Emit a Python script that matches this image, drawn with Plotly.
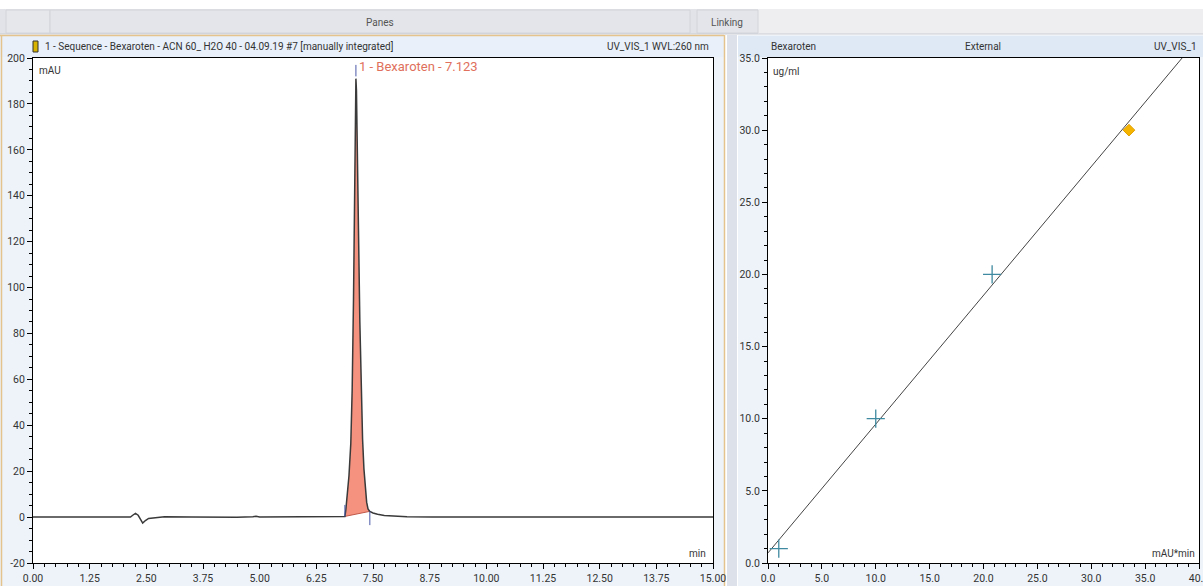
import plotly.graph_objects as go

W, H = 1203, 586

# ---------------- data ----------------
time_min = [0.00, 2.15, 2.20, 2.26, 2.32, 2.37, 2.42, 2.48, 2.55, 2.70, 2.90, 3.50, 4.50, 4.85, 4.92, 5.00,
            6.00, 6.86, 6.88, 6.90, 6.93, 6.97, 7.01, 7.04, 7.07, 7.095, 7.115, 7.123, 7.135, 7.155,
            7.18, 7.21, 7.24, 7.27, 7.30, 7.33, 7.36, 7.39, 7.43, 7.50, 7.60, 7.75, 7.95, 8.25, 8.80,
            10.00, 15.00]
signal_mau = [0.0, 0.0, 0.8, 1.6, 0.8, -1.0, -2.6, -1.5, -0.6, -0.3, 0.1, 0.0, -0.1, 0.2, 0.4, 0.0,
              0.0, 0.0, 0.3, 3.0, 10.0, 18.0, 32.0, 55.0, 95.0, 152.0, 186.0, 191.0, 186.0, 165.0,
              125.0, 85.0, 54.0, 34.0, 21.0, 13.0, 6.5, 3.6, 2.5, 1.8, 1.2, 0.7, 0.4, 0.2, 0.05,
              0.0, 0.0]
peak_name = "1 - Bexaroten - 7.123"
peak_rt = 7.123
peak_height = 191.0
peak_start, peak_end = 6.88, 7.43
baseline_start_val, baseline_end_val = 0.3, 2.5

cal_area = [1.0, 10.0, 20.8]          # mAU*min
cal_amount = [1.0, 10.0, 20.0]        # ug/ml
sample_area = [33.5]
sample_amount = [30.0]
fit_x = [0.0, 40.0]
fit_y = [0.7, 36.4]

chrom_xticks = [0.00, 1.25, 2.50, 3.75, 5.00, 6.25, 7.50, 8.75, 10.00, 11.25, 12.50, 13.75, 15.00]
chrom_yticks = [-20, 0, 20, 40, 60, 80, 100, 120, 140, 160, 180, 200]
cal_xticks = [0, 5, 10, 15, 20, 25, 30, 35, 40]
cal_yticks = [0, 5, 10, 15, 20, 25, 30, 35]

FONT = "Roboto, Liberation Sans, Arial"
TXT = "#333333"
FS = 10.5
HFS = 10


def X(px):
    return px / W


def Y(py):
    return 1 - py / H


fig = go.Figure()

# peak fill polygon (peak segment + integration baseline)
seg = [(t, s) for t, s in zip(time_min, signal_mau) if peak_start <= t <= peak_end]
fx = [t for t, _ in seg] + [peak_end, peak_start]
fy = [s for _, s in seg] + [baseline_end_val, baseline_start_val]
fig.add_trace(go.Scatter(x=fx, y=fy, fill="toself", fillcolor="#f5927f", mode="lines",
                         line=dict(color="rgba(0,0,0,0)", width=0), hoverinfo="skip",
                         xaxis="x", yaxis="y", showlegend=False))
fig.add_trace(go.Scatter(x=[peak_start, peak_end], y=[baseline_start_val, baseline_end_val], mode="lines",
                         line=dict(color="#c0584a", width=1), xaxis="x", yaxis="y", showlegend=False))
fig.add_trace(go.Scatter(x=time_min, y=signal_mau, mode="lines",
                         line=dict(color="#3a3a3a", width=1.5), xaxis="x", yaxis="y", showlegend=False))

# integration markers
fig.add_trace(go.Scatter(x=[peak_start, peak_start, None, peak_end, peak_end, None, peak_rt, peak_rt],
                         y=[baseline_start_val, baseline_start_val + 5, None, baseline_end_val,
                            baseline_end_val - 6, None, peak_height + 1, peak_height + 6],
                         mode="lines", line=dict(color="#4a58a8", width=1), xaxis="x", yaxis="y",
                         showlegend=False))

# calibration
fig.add_trace(go.Scatter(x=fit_x, y=fit_y, mode="lines", line=dict(color="#444444", width=1),
                         xaxis="x2", yaxis="y2", showlegend=False, cliponaxis=True))
fig.add_trace(go.Scatter(x=cal_area, y=cal_amount, mode="markers",
                         marker=dict(symbol="cross-thin", size=13, line=dict(color="#3f8aa0", width=1.3)),
                         xaxis="x2", yaxis="y2", showlegend=False))
fig.add_trace(go.Scatter(x=sample_area, y=sample_amount, mode="markers",
                         marker=dict(symbol="diamond", size=9, color="#f5b400",
                                     line=dict(color="#e0a000", width=1)),
                         xaxis="x2", yaxis="y2", showlegend=False))

axis_common = dict(showline=True, mirror=True, linecolor="black", linewidth=1, showgrid=False,
                   zeroline=False, ticks="outside", ticklen=5, tickcolor="black", tickwidth=1,
                   automargin=False, ticklabeloverflow="allow",
                   tickfont=dict(family=FONT, size=FS, color=TXT), fixedrange=True)

fig.update_layout(
    width=W, height=H, margin=dict(l=0, r=0, t=0, b=0, pad=0, autoexpand=False),
    paper_bgcolor="white", plot_bgcolor="white", showlegend=False,
    font=dict(family=FONT, size=FS, color=TXT),
    xaxis=dict(domain=[X(33), X(713)], range=[0, 15], tickvals=chrom_xticks,
               ticktext=[f"{v:.2f}" for v in chrom_xticks],
               minor=dict(dtick=0.25, ticks="outside", ticklen=3, tickcolor="black"),
               anchor="y", **axis_common),
    yaxis=dict(domain=[Y(563), Y(58)], range=[-20, 200], tickvals=chrom_yticks,
               ticktext=[str(v) for v in chrom_yticks],
               minor=dict(dtick=5, ticks="outside", ticklen=3, tickcolor="black"),
               anchor="x", **axis_common),
    xaxis2=dict(domain=[X(768), X(1199)], range=[0, 40], tickvals=cal_xticks,
                ticktext=[f"{v:.1f}" for v in cal_xticks],
                minor=dict(dtick=1, ticks="outside", ticklen=3, tickcolor="black"),
                anchor="y2", **axis_common),
    yaxis2=dict(domain=[Y(563), Y(58)], range=[0, 35], tickvals=cal_yticks,
                ticktext=[f"{v:.1f}" for v in cal_yticks],
                minor=dict(dtick=1, ticks="outside", ticklen=3, tickcolor="black"),
                anchor="x2", **axis_common),
)

shapes = []


def rect(x0, y0, x1, y1, fill, line=None, lw=0):
    shapes.append(dict(type="rect", xref="paper", yref="paper", x0=X(x0), x1=X(x1), y0=Y(y1), y1=Y(y0),
                       fillcolor=fill, line=dict(color=line or fill, width=lw), layer="below"))


def hline(x0, x1, y, color, w=1):
    shapes.append(dict(type="line", xref="paper", yref="paper", x0=X(x0), x1=X(x1), y0=Y(y), y1=Y(y),
                       line=dict(color=color, width=w), layer="below"))


def vline(x, y0, y1, color, w=1):
    shapes.append(dict(type="line", xref="paper", yref="paper", x0=X(x), x1=X(x), y0=Y(y0), y1=Y(y1),
                       line=dict(color=color, width=w), layer="below"))


# toolbar strip
rect(0, 9, 1203, 34, "#eeeef1")
rect(0, 9, 758, 34, "#e2e3e8")
rect(6, 10, 50, 33, "#e6e7eb", "#d2d4da", 1)
rect(50, 10, 690, 33, "#e4e5ea", "#d2d4da", 1)
rect(697, 10, 758, 33, "#e4e5ea", "#d2d4da", 1)
hline(0, 1203, 34, "#c9ccd3")
# panels
rect(0, 35, 724, 586, "#eef3fa")
rect(738, 35, 1203, 586, "#eef3fa")
rect(0, 36, 724, 57, "#e9f0f9")
rect(738, 36, 1203, 57, "#dfe9f6")
hline(0, 724, 35.5, "#e4c38c", 1.5)
vline(1.5, 35, 586, "#e4c38c", 1.5)
vline(724.5, 35, 586, "#e4c38c", 1.5)
rect(727, 35, 737, 586, "#dde2ea")
# plot areas (white)
rect(33, 58, 713, 563, "white")
rect(768, 58, 1199, 563, "white")
# small file icon
rect(33, 41, 38, 52, "#d8b400", "#333333", 1)
fig.update_layout(shapes=shapes)

ann = []


def text(px, py, s, anchor="left", color=TXT, size=HFS):
    ann.append(dict(xref="paper", yref="paper", x=X(px), y=Y(py), text=s, showarrow=False,
                    xanchor=anchor, yanchor="middle", font=dict(family=FONT, size=size, color=color)))


text(380, 22, "Panes", "center", "#555555")
text(727, 22, "Linking", "center", "#555555")
text(43, 47, "1 - Sequence - Bexaroten - ACN 60_ H2O 40 - 04.09.19 #7 [manually integrated]")
text(711, 47, "UV_VIS_1 WVL:260 nm", "right")
text(769, 47, "Bexaroten")
text(983, 47, "External", "center")
text(1199, 47, "UV_VIS_1", "right")
text(37, 70, "mAU")
text(708, 553, "min", "right")
text(771, 71, "ug/ml")
text(1197, 553, "mAU*min", "right")
ann.append(dict(xref="x", yref="y", x=peak_rt, y=peak_height + 1, text=peak_name, showarrow=False,
                xanchor="left", yanchor="bottom", xshift=1,
                font=dict(family=FONT, size=13, color="#e0705c")))
fig.update_layout(annotations=ann)

fig.write_html("out.html", config={"displayModeBar": False, "staticPlot": True},
               post_script="document.body.style.margin='0';document.body.style.overflow='hidden';")
